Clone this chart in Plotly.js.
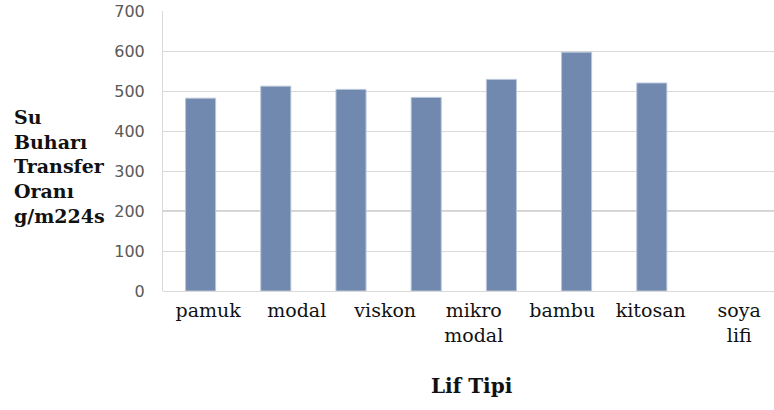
<!DOCTYPE html>
<html>
<head>
<meta charset="utf-8">
<script src="https://cdn.plot.ly/plotly-3.0.1.min.js"></script>
<style>
  html, body { margin: 0; padding: 0; background: #ffffff; }
  #chart { width: 774px; height: 410px; }
</style>
</head>
<body>
<div id="chart"></div>
<script>
// Fibre types and their water-vapour transfer rates (g/m²·24h)
const fibreTypes = ['pamuk', 'modal', 'viskon', 'mikro modal', 'bambu', 'kitosan', 'soya lifi'];
const transferRates = [482, 512, 504, 484, 529, 597, 520];
const fibreLabels = ['pamuk', 'modal', 'viskon', 'mikro<br>modal', 'bambu', 'kitosan', 'soya<br>lifi'];
const yTicks = [0, 100, 200, 300, 400, 500, 600, 700];
const yTitleLines = ['Su', 'Buharı', 'Transfer', 'Oranı', 'g/m224s'];

const serif = '"DejaVu Serif", serif';
const sans = '"DejaVu Sans", sans-serif';

const bars = {
  type: 'bar',
  x: fibreTypes,
  y: transferRates,
  marker: { color: '#7189ae', line: { color: '#b9c6da', width: 1 } },
  hoverinfo: 'x+y'
};

// Label row uses its own axis so the names sit on a looser spacing
const labelAxisTrace = {
  type: 'scatter',
  mode: 'markers',
  x: fibreTypes.map((_, i) => i),
  y: fibreTypes.map(() => null),
  xaxis: 'x2',
  yaxis: 'y',
  hoverinfo: 'skip',
  showlegend: false,
  marker: { opacity: 0 }
};

const layout = {
  width: 774,
  height: 410,
  margin: { l: 163, r: 0, t: 11, b: 119 },
  paper_bgcolor: '#ffffff',
  plot_bgcolor: '#ffffff',
  showlegend: false,
  bargap: 0.6,
  xaxis: {
    type: 'category',
    range: [-0.5, 7.625],
    showticklabels: false,
    showgrid: false,
    zeroline: false,
    showline: false,
    ticks: '',
    fixedrange: true
  },
  xaxis2: {
    type: 'linear',
    overlaying: 'x',
    anchor: 'y',
    side: 'bottom',
    range: [-0.511, 6.393],
    tickmode: 'array',
    tickvals: fibreTypes.map((_, i) => i),
    ticktext: fibreLabels,
    tickfont: { family: serif, size: 19, color: '#111111' },
    ticks: '',
    ticklabelstandoff: 6,
    showgrid: false,
    zeroline: false,
    showline: false,
    fixedrange: true
  },
  yaxis: {
    range: [0, 700],
    tickmode: 'array',
    tickvals: yTicks,
    tickfont: { family: sans, size: 16, color: '#595959' },
    ticks: '',
    ticklabelstandoff: 14,
    showgrid: true,
    gridcolor: '#d9d9d9',
    gridwidth: 1,
    zeroline: true,
    zerolinecolor: '#d9d9d9',
    zerolinewidth: 1,
    showline: true,
    linecolor: '#d9d9d9',
    linewidth: 1,
    fixedrange: true
  },
  shapes: [
    { type: 'line', xref: 'paper', yref: 'y', x0: 0, x1: 1, y0: 200, y1: 200,
      line: { color: '#a6a6a6', width: 1 }, layer: 'below' }
  ],
  annotations: [
    {
      text: yTitleLines.map(s => '<b>' + s + '</b>').join('<br>'),
      xref: 'paper', yref: 'paper',
      x: -151 / 611, y: 0.445,
      xanchor: 'left', yanchor: 'middle', align: 'left',
      showarrow: false,
      font: { family: serif, size: 19, color: '#111111' }
    },
    {
      text: '<b>Lif Tipi</b>',
      xref: 'paper', yref: 'paper',
      x: 0.506, y: -0.339,
      xanchor: 'center', yanchor: 'middle',
      showarrow: false,
      font: { family: serif, size: 20, color: '#111111' }
    }
  ]
};

Plotly.newPlot('chart', [bars, labelAxisTrace], layout, { displayModeBar: false, staticPlot: true });
</script>
</body>
</html>
